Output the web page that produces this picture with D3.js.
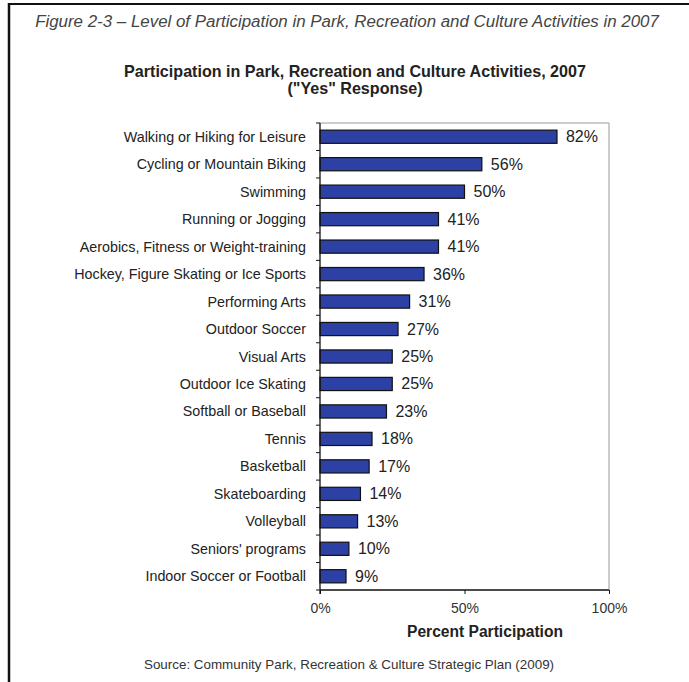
<!DOCTYPE html>
<html>
<head>
<meta charset="utf-8">
<script src="https://cdn.jsdelivr.net/npm/d3@7"></script>
<style>
  html, body { margin: 0; padding: 0; background: #fff; }
  svg { display: block; font-family: "Liberation Sans", Arial, sans-serif; }
</style>
</head>
<body>
<svg id="chart" width="689" height="682"></svg>
<script>
// Activities, top to bottom
const activities = [
  "Walking or Hiking for Leisure",
  "Cycling or Mountain Biking",
  "Swimming",
  "Running or Jogging",
  "Aerobics, Fitness or Weight-training",
  "Hockey, Figure Skating or Ice Sports",
  "Performing Arts",
  "Outdoor Soccer",
  "Visual Arts",
  "Outdoor Ice Skating",
  "Softball or Baseball",
  "Tennis",
  "Basketball",
  "Skateboarding",
  "Volleyball",
  "Seniors' programs",
  "Indoor Soccer or Football"
];
// Percent answering "Yes"
const participation = [82, 56, 50, 41, 41, 36, 31, 27, 25, 25, 23, 18, 17, 14, 13, 10, 9];
const xTicks = [0, 50, 100];

const svg = d3.select("#chart");

// Page frame (top and left rules)
svg.append("line").attr("x1", 8).attr("x2", 689).attr("y1", 4).attr("y2", 4)
  .attr("stroke", "#111").attr("stroke-width", 2);
svg.append("line").attr("x1", 9).attr("x2", 9).attr("y1", 3).attr("y2", 682)
  .attr("stroke", "#111").attr("stroke-width", 2.5);

// Figure caption
svg.append("text").attr("x", 347).attr("y", 27).attr("text-anchor", "middle")
  .attr("font-size", 16.9).attr("font-style", "italic").attr("fill", "#444")
  .text("Figure 2-3 \u2013 Level of Participation in Park, Recreation and Culture Activities in 2007");

// Chart title
svg.append("text").attr("x", 355).attr("y", 77).attr("text-anchor", "middle")
  .attr("font-size", 16.1).attr("font-weight", "bold").attr("fill", "#222")
  .text("Participation in Park, Recreation and Culture Activities, 2007");
svg.append("text").attr("x", 355).attr("y", 94).attr("text-anchor", "middle")
  .attr("font-size", 16.1).attr("font-weight", "bold").attr("fill", "#222")
  .text("(\"Yes\" Response)");

const plotLeft = 320, plotRight = 609, plotTop = 123, plotBottom = 590;

const x = d3.scaleLinear().domain([0, 100]).range([plotLeft, plotRight]);
const y = d3.scaleBand().domain(activities).range([plotTop, plotBottom]).paddingInner(0.52).paddingOuter(0.26);
const band = d3.scaleBand().domain(activities).range([plotTop, plotBottom]);

// Plot area frame (top and right in grey)
svg.append("path")
  .attr("d", `M${plotLeft},${plotTop}H${plotRight}V${plotBottom}`)
  .attr("fill", "none").attr("stroke", "#999").attr("stroke-width", 1);

// Bars
svg.append("g").selectAll("rect").data(activities).join("rect")
  .attr("x", x(0))
  .attr("y", d => y(d))
  .attr("width", (d, i) => x(participation[i]) - x(0))
  .attr("height", y.bandwidth())
  .attr("fill", "#2c41a3")
  .attr("stroke", "#111")
  .attr("stroke-width", 1.2);

// Value labels
svg.append("g").selectAll("text").data(activities).join("text")
  .attr("x", (d, i) => x(participation[i]) + 9)
  .attr("y", d => y(d) + y.bandwidth() / 2 + 5.5)
  .attr("font-size", 16).attr("fill", "#222")
  .text((d, i) => participation[i] + "%");

// Category labels
svg.append("g").selectAll("text").data(activities).join("text")
  .attr("x", plotLeft - 14)
  .attr("y", d => band(d) + band.bandwidth() / 2 + 5)
  .attr("text-anchor", "end")
  .attr("font-size", 14.3).attr("fill", "#222")
  .text(d => d);

// Left axis with ticks between categories
const leftAxis = svg.append("g");
leftAxis.append("line").attr("x1", plotLeft).attr("x2", plotLeft).attr("y1", plotTop).attr("y2", plotBottom + 4)
  .attr("stroke", "#111").attr("stroke-width", 1.3);
leftAxis.selectAll("line.tick").data(activities.concat([null])).join("line").attr("class", "tick")
  .attr("x1", plotLeft - 4).attr("x2", plotLeft)
  .attr("y1", (d, i) => plotTop + i * band.step())
  .attr("y2", (d, i) => plotTop + i * band.step())
  .attr("stroke", "#111");

// Bottom axis
const xAxis = d3.axisBottom(x).tickValues(xTicks).tickFormat(d => d + "%").tickSize(4).tickSizeOuter(0);
const gx = svg.append("g").attr("transform", `translate(0,${plotBottom})`).call(xAxis);
gx.select(".domain").attr("stroke", "#111").attr("stroke-width", 1.3).attr("d", `M${x(0)},0H${x(100)}`);
gx.selectAll(".tick line").attr("stroke", "#111");
gx.selectAll(".tick text").attr("font-size", 14).attr("fill", "#333").attr("dy", "1.15em")
  .attr("font-family", "Liberation Sans, Arial, sans-serif");

// Axis title
svg.append("text").attr("x", 485).attr("y", 637).attr("text-anchor", "middle")
  .attr("font-size", 15.6).attr("font-weight", "bold").attr("fill", "#222")
  .text("Percent Participation");

// Source note
svg.append("text").attr("x", 349).attr("y", 669).attr("text-anchor", "middle")
  .attr("font-size", 13.4).attr("fill", "#333")
  .text("Source: Community Park, Recreation & Culture Strategic Plan (2009)");
</script>
</body>
</html>
